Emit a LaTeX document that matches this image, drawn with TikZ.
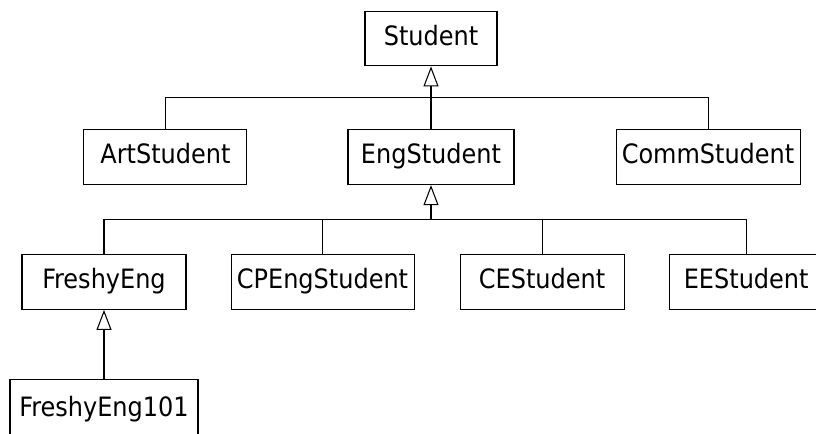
\documentclass[tikz,border=0pt]{standalone}
\usepackage{fontspec}
\setmainfont{DejaVu Sans Condensed}
\usetikzlibrary{arrows.meta, positioning, calc}

\begin{document}
\begin{tikzpicture}[x=0.75pt,y=-0.75pt,
 cls/.style={draw,line width=0.8pt,inner sep=0pt,minimum height=41pt,
   text height=1em,text depth=0pt,font=\fontsize{20}{24}\selectfont},
 gen/.style={line width=0.8pt,-{Triangle[open,length=15pt,width=11.25pt]}},
 link/.style={line width=0.8pt}]
 \useasboundingbox (0,0) rectangle (816,433);
 \clip (0,0) rectangle (816,433);

 \node[cls, minimum width=99pt] (st) at (431,38.5) {Student};
 \node[cls, minimum width=124.5pt, below=47.25pt of st] (eng) {EngStudent};
 \node[cls, minimum width=122.25pt, left=75pt of eng] (art) {ArtStudent};
 \node[cls, minimum width=138pt, right=75.75pt of eng] (comm) {CommStudent};

 \node[cls, minimum width=123pt] (fe) at (104,282) {FreshyEng};
 \node[cls, minimum width=137.25pt, right=33pt of fe] (cpe) {CPEngStudent};
 \node[cls, minimum width=123pt, right=33.75pt of cpe] (ce) {CEStudent};
 \node[cls, minimum width=115.5pt, right=33pt of ce] (ee) {EEStudent};
 \node[cls, minimum width=141pt, minimum height=45pt, below=51.75pt of fe] (fe101) {FreshyEng101};

 \coordinate (b1) at ($(st.south)!0.5!(eng.north)$);
 \draw[link] (art.north) |- (b1) -| (comm.north);
 \draw[gen] (eng.north) -- (st.south);

 \coordinate (b2) at ($(eng.south)!0.5!(eng.south |- fe.north)$);
 \draw[gen] (b2) -- (eng.south);
 \draw[link] (fe.north) |- (b2) -| (ee.north);
 \draw[link] (cpe.north) |- (b2);
 \draw[link] (ce.north) |- (b2);

 \draw[gen] (fe101.north) -- (fe.south);
\end{tikzpicture}
\end{document}
